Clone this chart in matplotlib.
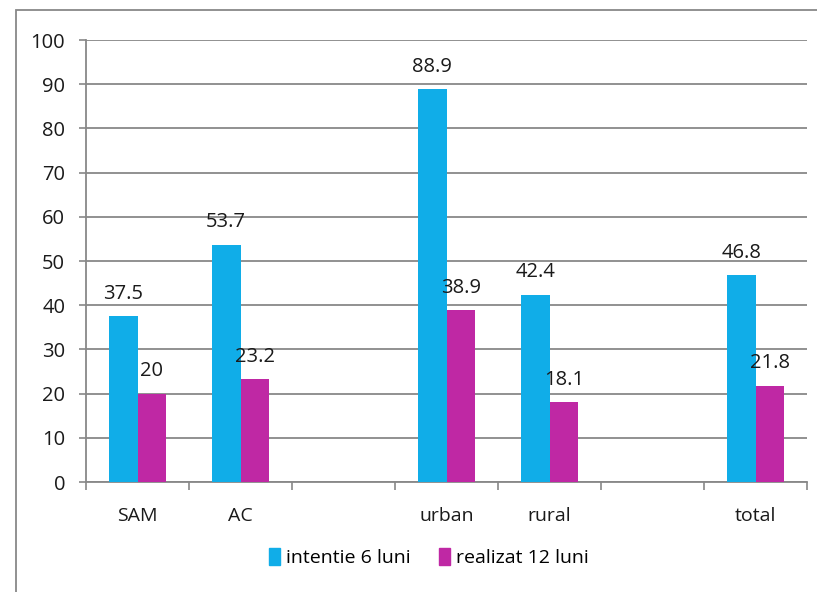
import numpy as np
import matplotlib.pyplot as plt
from matplotlib.patches import Rectangle

plt.rcParams['font.family'] = ['Open Sans', 'DejaVu Sans']

categories = ["SAM", "AC", "", "urban", "rural", "", "total"]
intentie = [37.5, 53.7, None, 88.9, 42.4, None, 46.8]
realizat = [20, 23.2, None, 38.9, 18.1, None, 21.8]
labels_int = ["37.5", "53.7", "", "88.9", "42.4", "", "46.8"]
labels_real = ["20", "23.2", "", "38.9", "18.1", "", "21.8"]

cyan = "#10ADE8"
magenta = "#BF28A4"
grey = "#888888"
txt = "#1a1a1a"

fig = plt.figure(figsize=(8.17, 5.92), dpi=100)
ax = fig.add_axes([0.1053, 0.1858, 0.8825, 0.7466])

x = np.arange(len(categories))
w = 0.28
for i in x:
    if intentie[i] is None:
        continue
    ax.bar(i - w / 2, intentie[i], w, color=cyan, zorder=3)
    ax.bar(i + w / 2, realizat[i], w, color=magenta, zorder=3)
    ax.annotate(labels_int[i], (i - w / 2, intentie[i]), xytext=(0, 9),
                textcoords="offset points", ha="center", va="bottom",
                fontsize=14.5, color=txt, zorder=4)
    ax.annotate(labels_real[i], (i + w / 2, realizat[i]), xytext=(0, 9),
                textcoords="offset points", ha="center", va="bottom",
                fontsize=14.5, color=txt, zorder=4)

ax.set_xlim(-0.5, len(categories) - 0.5)
ax.set_ylim(0, 100)
ax.set_yticks(np.arange(0, 101, 10))
ax.yaxis.grid(True, color=grey, linewidth=1.3, zorder=0)
ax.set_xticks(x)
ax.set_xticklabels(categories)
ax.set_xticks(np.arange(-0.5, len(categories), 1), minor=True)
ax.tick_params(axis="x", which="major", length=0, pad=18, labelsize=14, labelcolor=txt)
ax.tick_params(axis="x", which="minor", length=6, color=grey, width=1.2)
ax.tick_params(axis="y", length=5, color=grey, width=1.2, pad=10, labelsize=14.5, labelcolor=txt)
for s in ["top", "right"]:
    ax.spines[s].set_visible(False)
for s in ["left", "bottom"]:
    ax.spines[s].set_color(grey)
    ax.spines[s].set_linewidth(1.3)

h1 = Rectangle((0, 0), 1, 1, color=cyan)
h2 = Rectangle((0, 0), 1, 1, color=magenta)
fig.legend([h1, h2], ["intentie 6 luni", "realizat 12 luni"], loc="center",
           bbox_to_anchor=(0.525, 0.058), ncol=2, frameon=False, fontsize=14,
           handlelength=0.55, handleheight=1.0, handletextpad=0.3, columnspacing=1.5)

fig.patches.append(Rectangle((16 / 817, -0.1), 1.2, 1 - 10 / 592 + 0.1,
                             transform=fig.transFigure, fill=False,
                             edgecolor=grey, linewidth=1.3))

fig.savefig("out.png", dpi=100)
